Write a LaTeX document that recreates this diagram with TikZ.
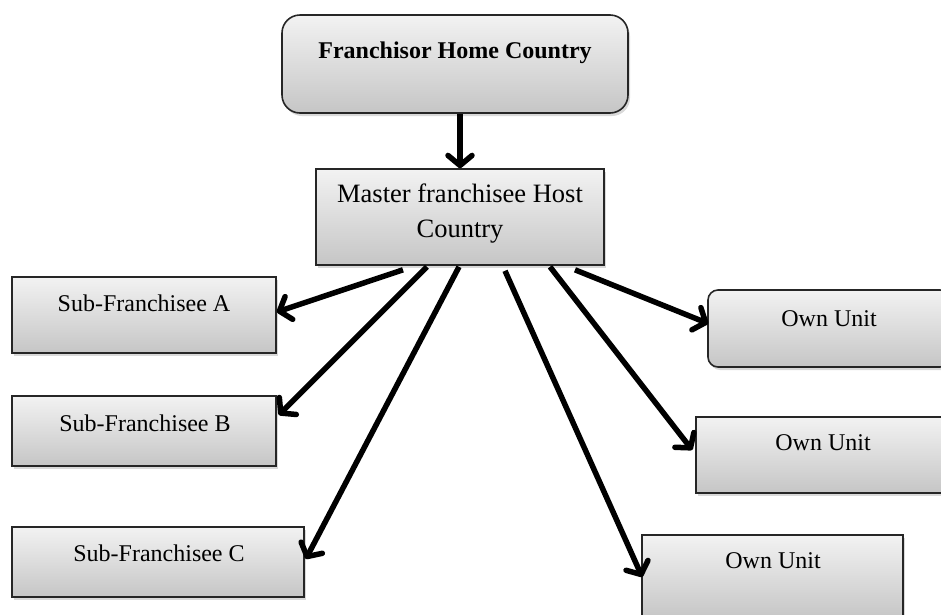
\documentclass[tikz,border=0pt]{standalone}
\usepackage{fontspec}
\setmainfont{Liberation Serif}
\usetikzlibrary{arrows.meta,calc,shadows}
\begin{document}
\begin{tikzpicture}[x=1pt,y=-1pt,
  box/.style={draw=black!85, line width=1.6pt, top color=gray!10, bottom color=gray!45,
    drop shadow={opacity=0.3, shadow xshift=2pt, shadow yshift=-3pt}, inner sep=0pt},
  rbox/.style={box, rounded corners=#1},
  lbl/.style={font=\fontsize{24}{28}\selectfont, inner sep=0pt},
  link/.style={line width=5.5pt, -{Straight Barb[length=10pt,width=24pt,round]}},
]
\useasboundingbox (0,0) rectangle (941,614);

% boxes
\node[rbox=18pt, minimum width=346pt, minimum height=98pt] (home) at (455,64) {};
\node[box, minimum width=288pt, minimum height=96pt] (master) at (460,217) {};
\node[box, minimum width=264pt, minimum height=76pt] (subA) at (144,315) {};
\node[box, minimum width=264pt, minimum height=70pt] (subB) at (144,431) {};
\node[box, minimum width=292pt, minimum height=70pt] (subC) at (158,562) {};
\node[rbox=10pt, minimum width=242pt, minimum height=77pt] (own1) at (829,328.5) {};
\node[box, minimum width=254pt, minimum height=76pt] (own2) at (823,455) {};
\node[box, minimum width=261pt, minimum height=84pt] (own3) at (772.5,577) {};

% labels
\node[lbl, font=\fontsize{24}{28}\selectfont\bfseries] (homeT) at (455,53) {Franchisor Home Country};
\node[lbl, align=center, font=\fontsize{26.5}{35}\selectfont] (masterT) at (460,214) {Master franchisee Host\\Country};
\node[lbl] (subAT) at (144,303) {Sub-Franchisee A};
\node[lbl] (subBT) at (145,423) {Sub-Franchisee B};
\node[lbl] (subCT) at (159,553) {Sub-Franchisee C};
\node[lbl] (own1T) at (829,319) {Own Unit};
\node[lbl] (own2T) at (823,443) {Own Unit};
\node[lbl] (own3T) at (773,561) {Own Unit};

% connectors
\draw[link] (home.south) ++(5,0) -- (master.north);
\draw[link] ($(master.south)+(-57,4)$) -- ($(subA.east)+(0,-3)$);
\draw[link] ($(master.south)+(-33,1)$) -- ($(subB.east)+(2,-16)$);
\draw[link] ($(master.south)+(-1,1)$) -- ($(subC.east)+(1,-3)$);
\draw[link] ($(master.south)+(45,5)$) -- ($(own3.west)+(1,0)$);
\draw[link] ($(master.south)+(90,1)$) -- ($(own2.west)+(-3,-5)$);
\draw[link] ($(master.south)+(115,4)$) -- ($(own1.west)+(1,-5)$);
\end{tikzpicture}
\end{document}
